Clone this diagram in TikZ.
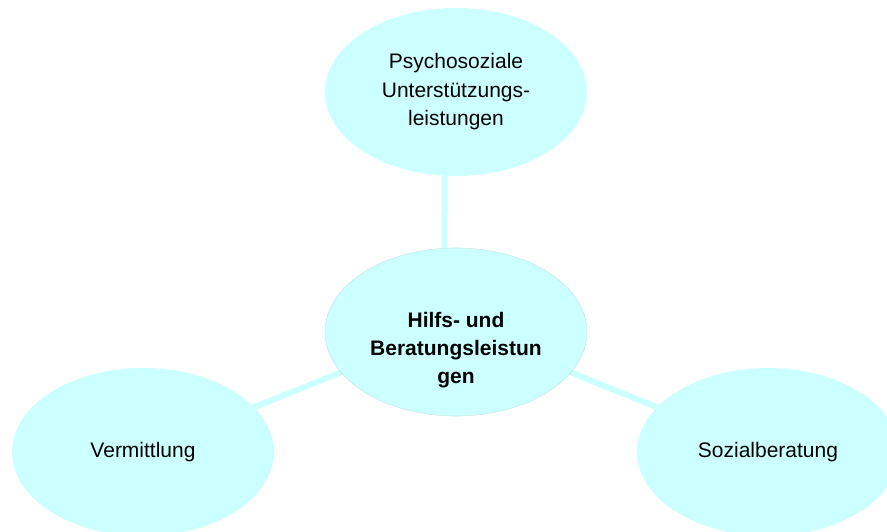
\documentclass[tikz,border=0pt]{standalone}
\usepackage{fontspec}
\setmainfont{Liberation Sans}
\usetikzlibrary{shapes.geometric,backgrounds}
\definecolor{bubble}{RGB}{204,255,255}
\definecolor{bubbleedge}{RGB}{200,232,232}
\begin{document}
\begin{tikzpicture}[x=1pt, y=1pt, node distance=240pt,
		bub/.style={ellipse, fill=bubble, minimum width=262pt, minimum height=168pt, inner sep=0pt,
			align=center, font=\fontsize{21}{28.5}\selectfont},
		link/.style={draw=bubble, line width=6pt}]
			\useasboundingbox (0,0) rectangle (887,532);
			\node[bub, draw=bubbleedge, line width=0.6pt] (hub) at (456,200) {};
			\node (hubtext) [align=center, font=\fontsize{21}{28}\selectfont\bfseries] at ([yshift=-18pt]hub.center) {Hilfs- und\\Beratungsleistun\\gen};
			\node[bub] (top) [above of=hub] {Psychosoziale\\Unterstützungs-\\leistungen};
			\node[bub] (left) at (143,80) {Vermittlung};
			\node[bub] (right) at (768,80) {Sozialberatung};
			
			\begin{scope}[on background layer]
				\draw[link] ([xshift=-11pt]top.center) -- ([xshift=-12pt]hub.center);
				\draw[link] ([yshift=6pt]hub.center) -- (left.center);
				\draw[link] ([yshift=6pt]hub.center) -- (right.center);
			\end{scope}
		\end{tikzpicture}
\end{document}
